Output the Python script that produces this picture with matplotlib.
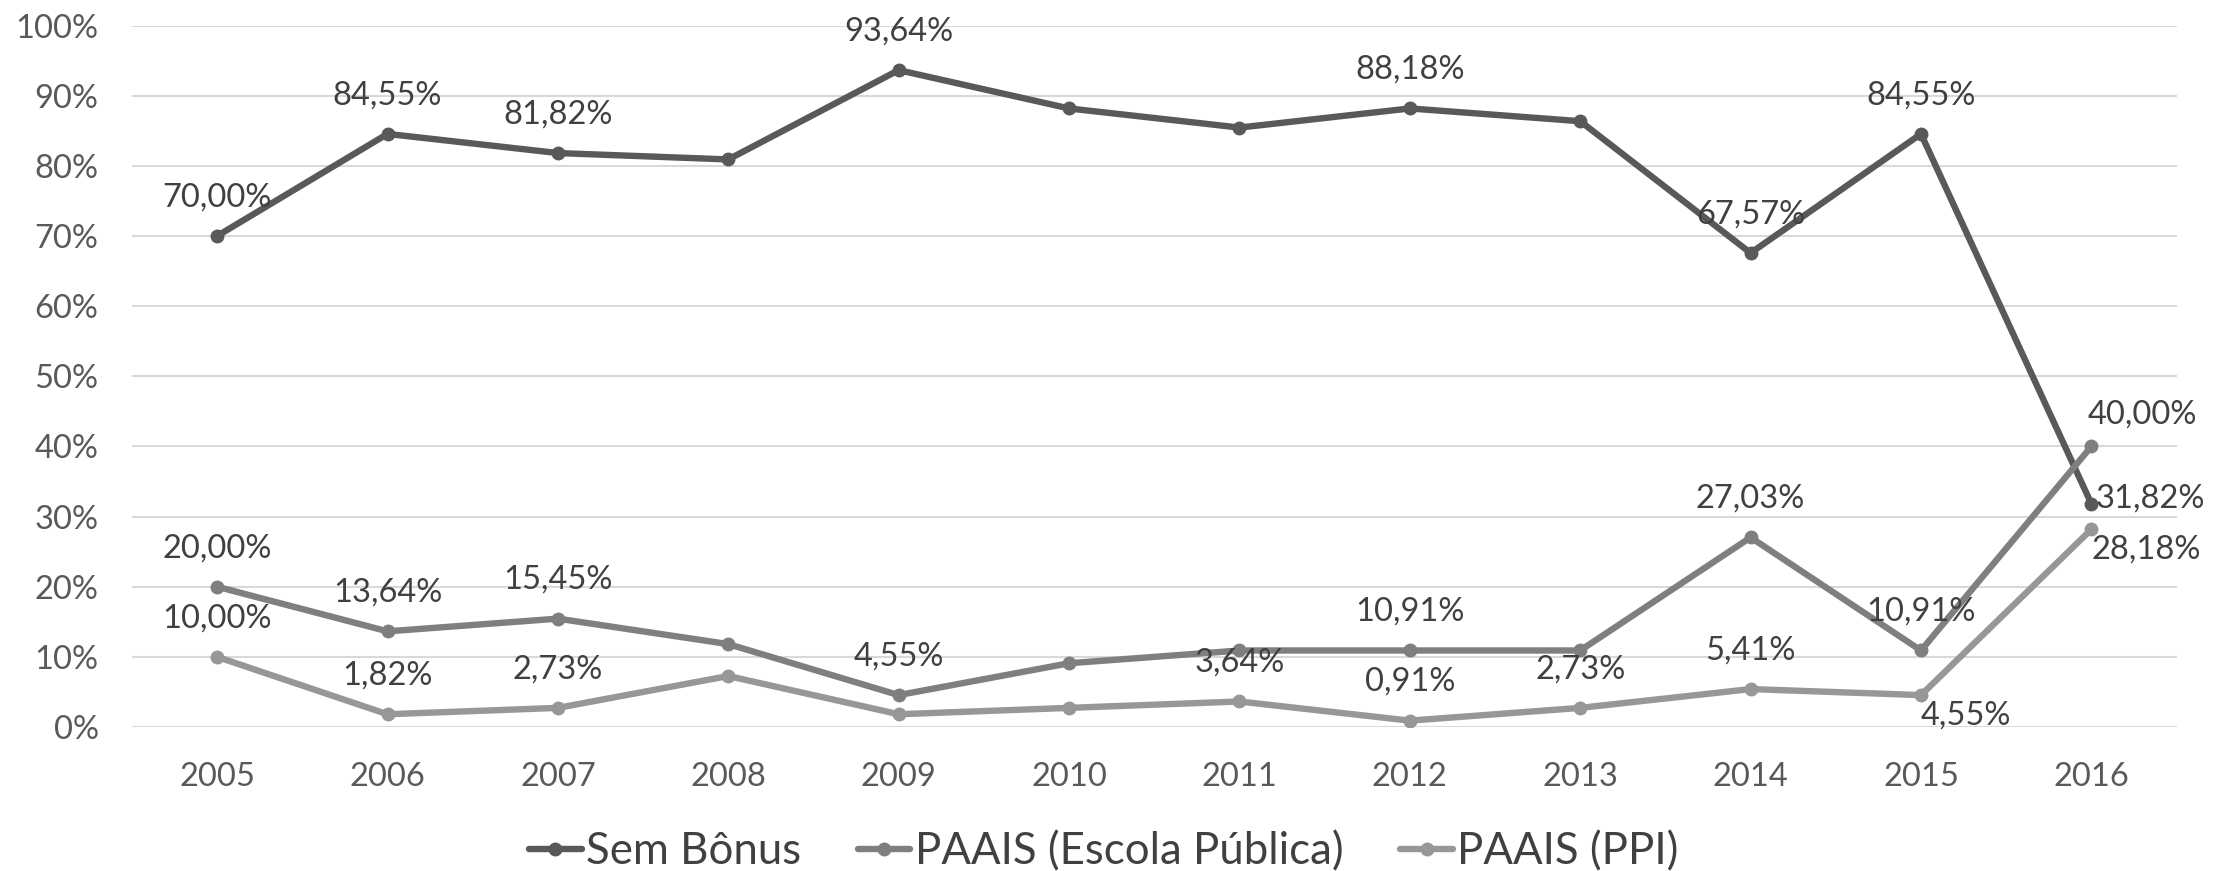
import matplotlib.pyplot as plt
from matplotlib.ticker import FuncFormatter

plt.rcParams['font.family'] = ['Lato', 'DejaVu Sans']

years = ['2005', '2006', '2007', '2008', '2009', '2010', '2011', '2012', '2013', '2014', '2015', '2016']
sem_bonus = [70.00, 84.55, 81.82, 80.91, 93.64, 88.18, 85.45, 88.18, 86.36, 67.57, 84.55, 31.82]
escola_publica = [20.00, 13.64, 15.45, 11.82, 4.55, 9.09, 10.91, 10.91, 10.91, 27.03, 10.91, 40.00]
ppi = [10.00, 1.82, 2.73, 7.27, 1.82, 2.73, 3.64, 0.91, 2.73, 5.41, 4.55, 28.18]

series_names = ['Sem Bônus', 'PAAIS (Escola Pública)', 'PAAIS (PPI)']

# which points carry a data label, and where
labels_sem = {0: 'up', 1: 'up', 2: 'up', 4: 'up', 7: 'up', 9: 'up', 10: 'up', 11: 'right'}
labels_esc = {0: 'up', 1: 'up', 2: 'up', 4: 'up', 7: 'up', 9: 'up', 10: 'up', 11: 'upright'}
labels_ppi = {0: 'up', 1: 'up', 2: 'up', 6: 'up', 7: 'up', 8: 'up', 9: 'up', 10: 'downright', 11: 'downright'}
placements = {
    'up': (0, 17, 'center', 'bottom'),
    'right': (3, 4, 'left', 'center'),
    'upright': (-3, 12, 'left', 'bottom'),
    'downright': (0, -4, 'left', 'top'),
}

colors = ['#595959', '#7f7f7f', '#979797']

fig = plt.figure(figsize=(22.21, 8.71), dpi=100)
ax = fig.add_axes([0.0594, 0.1653, 0.9206, 0.8054])

x = list(range(len(years)))
for vals, name, col, labs in zip([sem_bonus, escola_publica, ppi], series_names, colors,
                                 [labels_sem, labels_esc, labels_ppi]):
    ax.plot(x, [v / 100 for v in vals], color=col, lw=4.6, marker='o', ms=9,
            solid_capstyle='round', label=name)
    for i, pos in labs.items():
        dx, dy, ha, va = placements[pos]
        ax.annotate(f'{vals[i]:.2f}%'.replace('.', ','), (i, vals[i] / 100),
                    xytext=(dx, dy), textcoords='offset points', ha=ha, va=va,
                    fontsize=23.5, color='#404040')

ax.set_xlim(-0.5, len(years) - 0.5)
ax.set_ylim(0, 1)
ax.set_xticks(x)
ax.set_xticklabels(years)
ax.set_yticks([i / 10 for i in range(11)])
ax.yaxis.set_major_formatter(FuncFormatter(lambda v, p: f'{v * 100:.0f}%'))
ax.tick_params(axis='both', length=0, labelsize=23.5, labelcolor='#595959')
ax.tick_params(axis='x', pad=25)
ax.tick_params(axis='y', pad=24)
ax.grid(axis='y', color='#d9d9d9', lw=1.5)
ax.set_axisbelow(True)
for s in ax.spines.values():
    s.set_visible(False)

fig.legend(loc='center', bbox_to_anchor=(0.497, 0.022), ncol=3, frameon=False,
           fontsize=31.5, labelcolor='#404040', handlelength=1.2, handletextpad=0.1,
           columnspacing=1.3)

plt.savefig('out.png', dpi=100)
